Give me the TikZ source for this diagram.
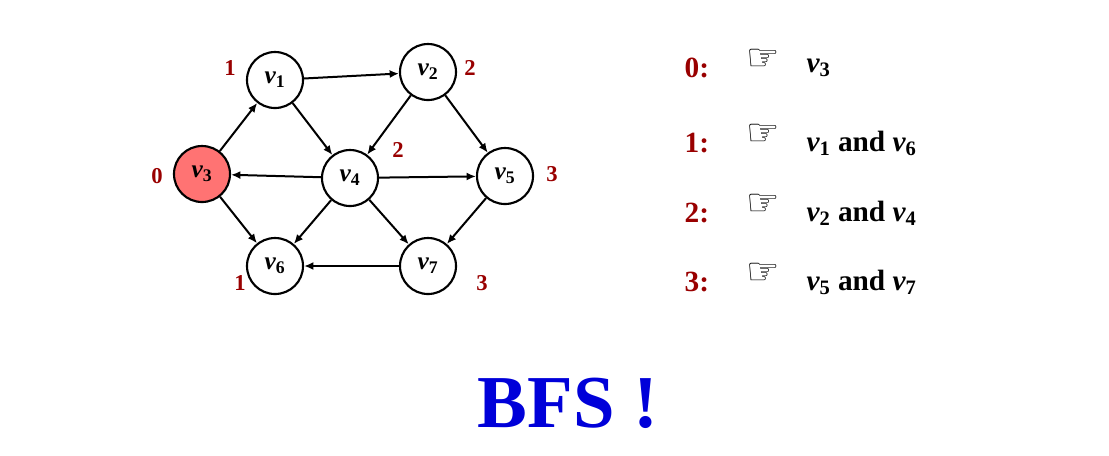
\documentclass[tikz,border=0pt]{standalone}
\usetikzlibrary{arrows.meta}
\usepackage{fontspec}
\setmainfont{Liberation Serif}
\newfontfamily\djv{DejaVu Sans}
\newcommand{\vs}[1]{{\itshape v}\textsubscript{\upshape #1}}
\begin{document}
\begin{tikzpicture}[x=0.75pt,y=-0.75pt,
  vx/.style={circle,draw,line width=1.6pt,minimum size=42pt,inner sep=0pt,font=\fontsize{19}{20}\selectfont\bfseries},
  ed/.style={-{Latex[length=7pt,width=6pt]},line width=1.5pt},
  lb/.style={text=red!60!black,font=\fontsize{17}{18}\selectfont\bfseries},
  tx/.style={anchor=west,font=\fontsize{22}{24}\selectfont\bfseries}]
\useasboundingbox (0,0) rectangle (1109,455);
\node[vx] (v1) at (275,80) {\vs{1}};
\node[vx] (v2) at (428,72) {\vs{2}};
\node[vx,fill=red!55!white] (v3) at (202,174) {\vs{3}};
\node[vx] (v4) at (350,178) {\vs{4}};
\node[vx] (v5) at (505,176) {\vs{5}};
\node[vx] (v6) at (275,266) {\vs{6}};
\node[vx] (v7) at (428,266) {\vs{7}};
\draw[ed] (v1)--(v2); \draw[ed] (v1)--(v4); \draw[ed] (v2)--(v4);
\draw[ed] (v2)--(v5); \draw[ed] (v3)--(v1); \draw[ed] (v3)--(v6);
\draw[ed] (v4)--(v3); \draw[ed] (v4)--(v5); \draw[ed] (v4)--(v6);
\draw[ed] (v4)--(v7); \draw[ed] (v5)--(v7); \draw[ed] (v7)--(v6);
\node[lb] (l1) at (230,68) {1};
\node[lb] (l2) at (470,68) {2};
\node[lb] (l0) at (157,176) {0};
\node[lb] (l4) at (398,150) {2};
\node[lb] (l5) at (552,174) {3};
\node[lb] (l6) at (240,283) {1};
\node[lb] (l7) at (482,283) {3};
\foreach \n/\y/\t in {0/68/\vs{3},1/143/\vs{1} and \vs{6},2/213/\vs{2} and \vs{4},3/282/\vs{5} and \vs{7}}{
  \node[tx,text=red!60!black] (n\n) at (680,\y) {\n:};
  \node[tx] (h\n) at (742,\y-8) {\djv\fontsize{28}{30}\selectfont ☞};
  \node[tx] (t\n) at (802,\y) {\t};
}
\node[font=\fontsize{56}{60}\selectfont\bfseries,text=blue!85!black] (bfs) at (568,403) {BFS !};
\end{tikzpicture}
\end{document}
